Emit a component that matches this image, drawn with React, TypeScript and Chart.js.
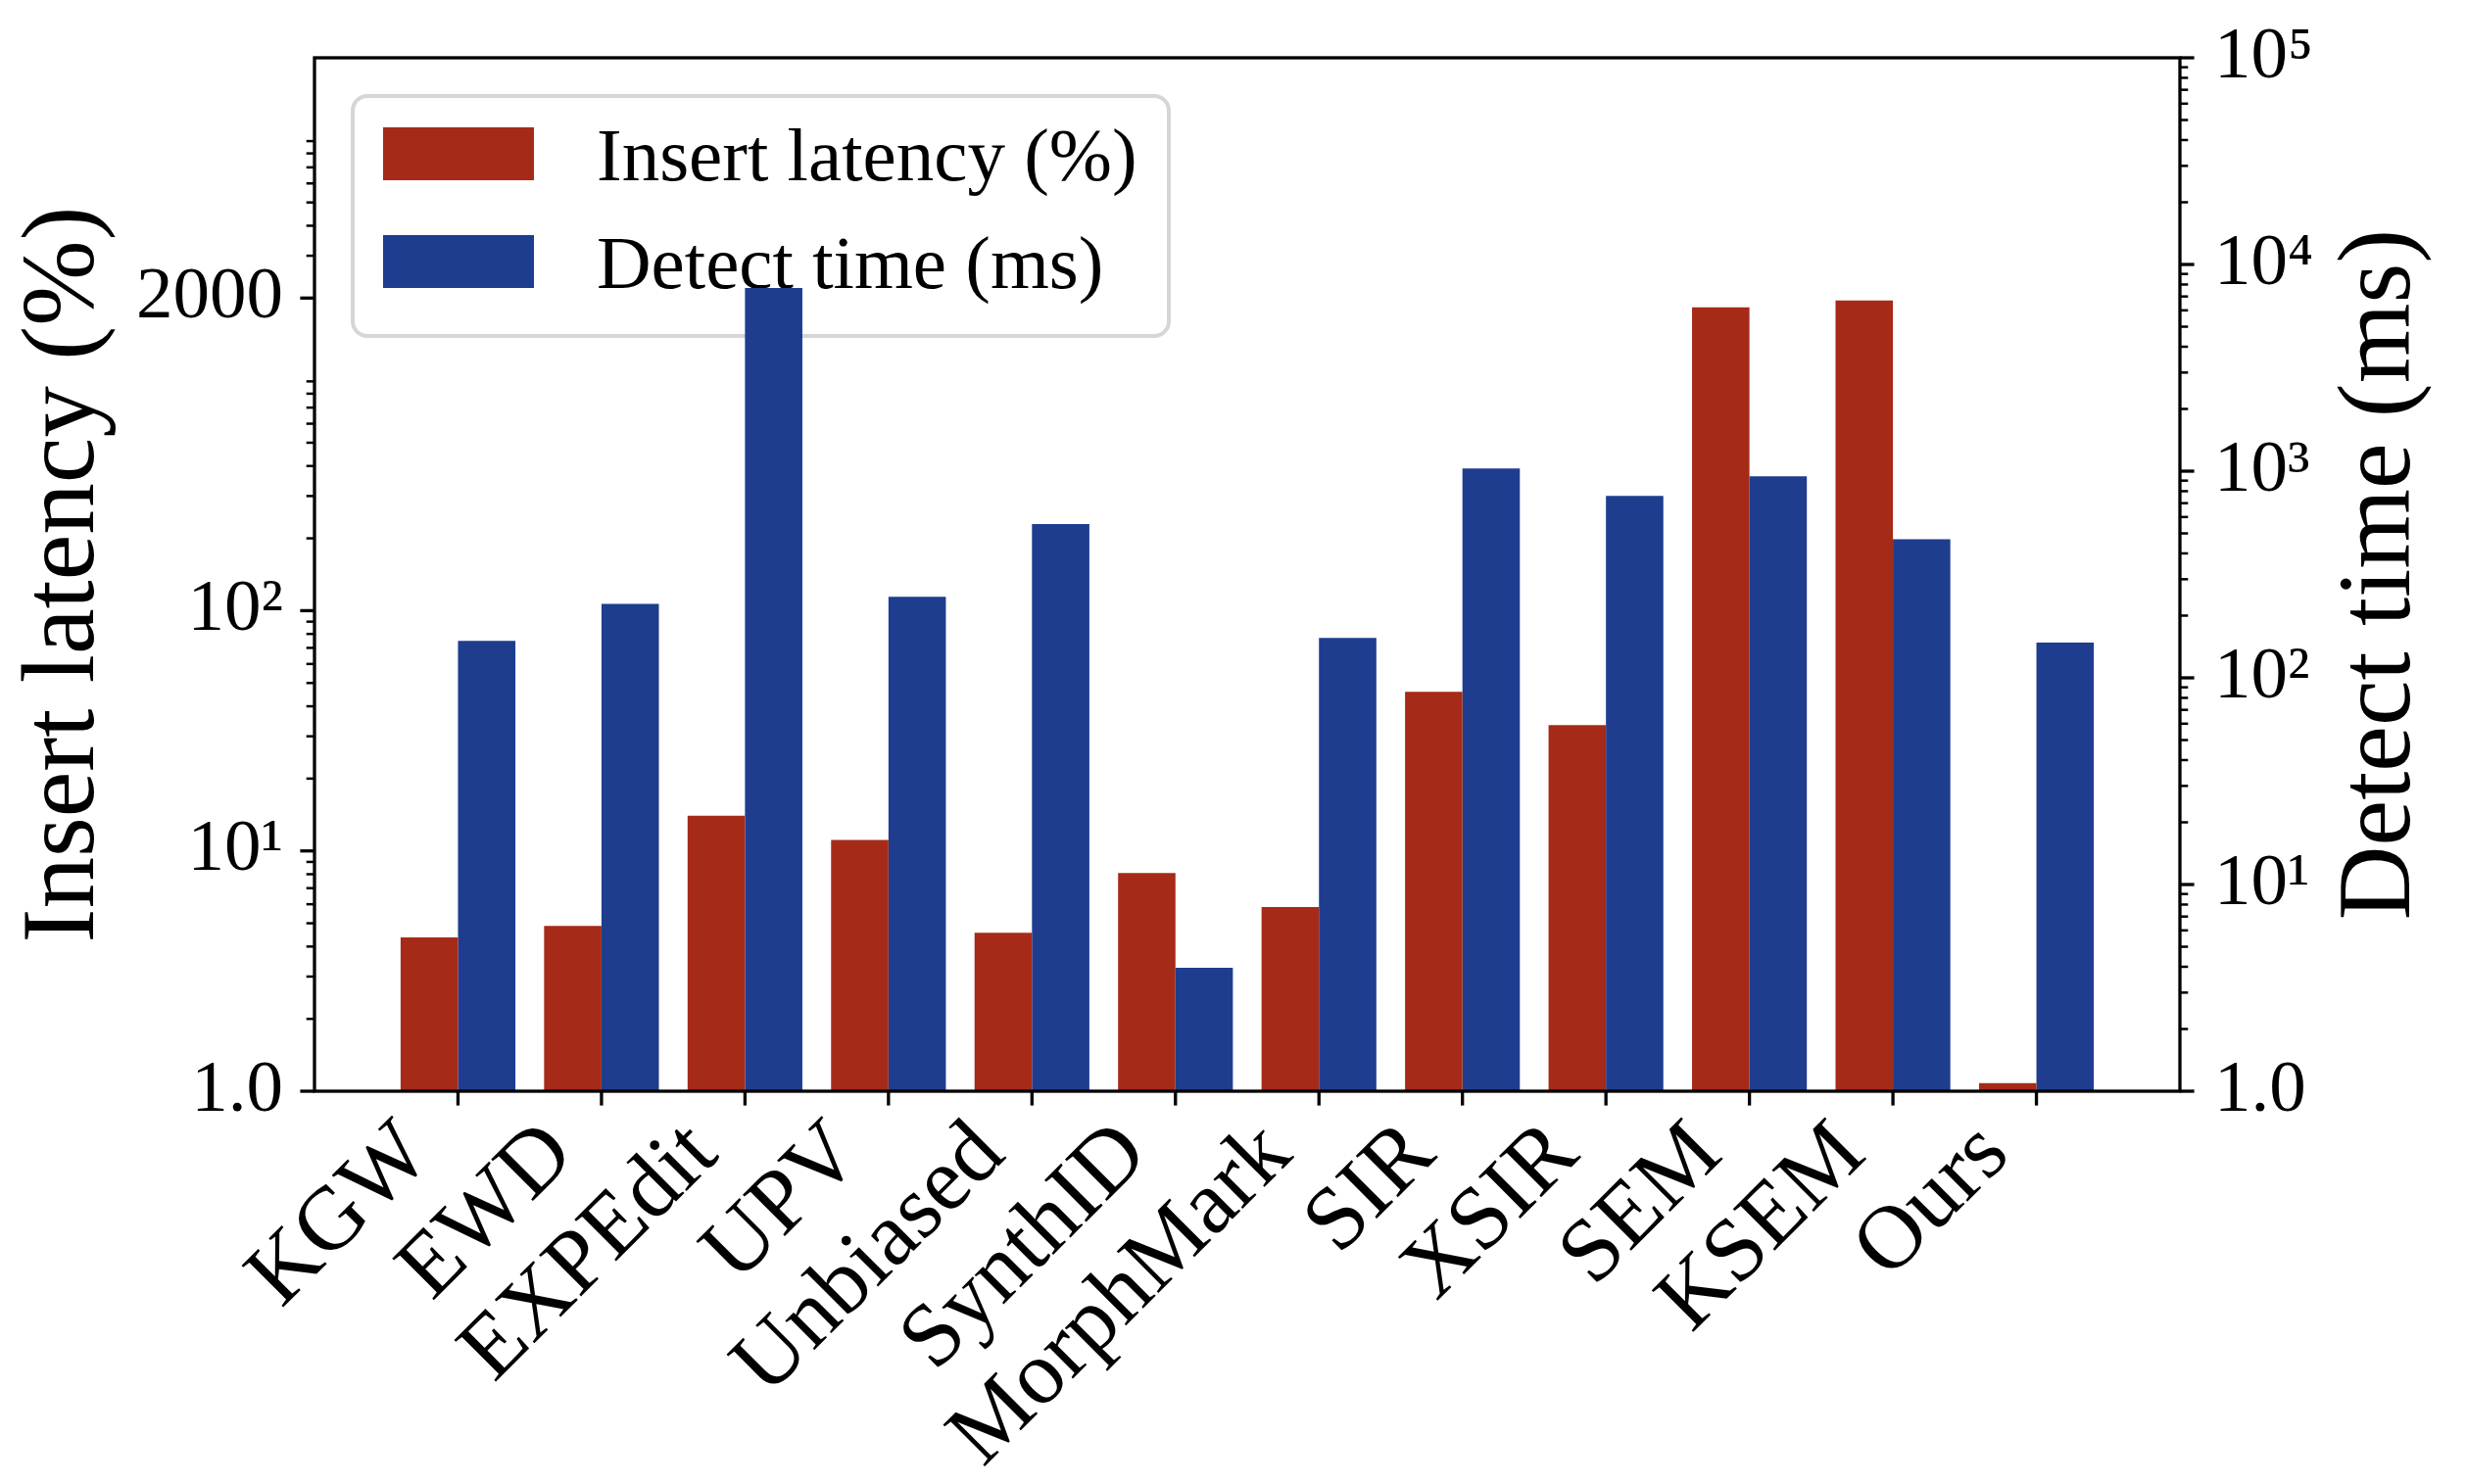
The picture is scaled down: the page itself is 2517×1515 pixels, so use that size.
import React, { useEffect, useRef } from 'react';
import { Chart, registerables } from 'chart.js';

Chart.register(...registerables);

// ---------- data ----------
const categories = ['KGW', 'EWD', 'EXPEdit', 'UPV', 'Unbiased', 'SynthID', 'MorphMark', 'SIR', 'XSIR', 'SEM', 'KSEM', 'Ours'];
const insertLatency = [4.37, 4.87, 14.0, 11.1, 4.56, 8.1, 5.84, 45.9, 33.4, 1830, 1955, 1.08];
const detectTime = [151, 228, 7700, 247, 555, 3.96, 156, 1030, 759, 944, 469, 148];

const seriesLabels = ['Insert latency (%)', 'Detect time (ms)'];
const seriesColors = ['#A62A18', '#1F3D8F'];

const leftTickValues = [1, 10, 100, 2000];
const leftTickLabels = ['1.0', '10¹', '10²', '2000'];
const rightTickValues = [1, 10, 100, 1000, 10000, 100000];
const rightTickLabels = ['1.0', '10¹', '10²', '10³', '10⁴', '10⁵'];

const leftAxisTitle = 'Insert latency (%)';
const rightAxisTitle = 'Detect time (ms)';

const FONT = "'Liberation Serif', 'Times New Roman', serif";
const TITLE_SIZE = 105;

// minor tick values (2..9 x decade) inside a range
function minorValues(min: number, max: number): number[] {
  const out: number[] = [];
  for (let d = 1; d <= max; d *= 10) {
    for (let s = 2; s <= 9; s++) {
      const v = s * d;
      if (v > min && v < max) out.push(v);
    }
  }
  return out;
}

const MAJOR_LEN = 14.6;
const MINOR_LEN = 8.3;
const MAJOR_W = 3.3;
const MINOR_W = 2.5;

const decorPlugin = {
  id: 'decor',
  beforeDatasetsDraw(chart: any) {
    // legend (drawn beneath the bars, like the twin-axis original)
    const ctx = chart.ctx;
    const { left, top } = chart.chartArea;
    const bx = left + 39, by = top + 39, bw = 833, bh = 245, r = 15;
    ctx.save();
    ctx.beginPath();
    ctx.moveTo(bx + r, by);
    ctx.lineTo(bx + bw - r, by);
    ctx.arcTo(bx + bw, by, bx + bw, by + r, r);
    ctx.lineTo(bx + bw, by + bh - r);
    ctx.arcTo(bx + bw, by + bh, bx + bw - r, by + bh, r);
    ctx.lineTo(bx + r, by + bh);
    ctx.arcTo(bx, by + bh, bx, by + bh - r, r);
    ctx.lineTo(bx, by + r);
    ctx.arcTo(bx, by, bx + r, by, r);
    ctx.closePath();
    ctx.fillStyle = 'rgba(255,255,255,0.8)';
    ctx.fill();
    ctx.lineWidth = 4;
    ctx.strokeStyle = 'rgba(204,204,204,0.8)';
    ctx.stroke();
    ctx.font = `77px ${FONT}`;
    ctx.textAlign = 'left';
    ctx.textBaseline = 'alphabetic';
    chart.data.datasets.forEach((ds: any, i: number) => {
      const baseY = top + 125 + i * 110;
      ctx.fillStyle = ds.backgroundColor;
      ctx.fillRect(left + 70, baseY - 54, 154, 54);
      ctx.fillStyle = '#000';
      ctx.fillText(ds.label, left + 288, baseY);
    });
    ctx.restore();
  },
  afterDraw(chart: any) {
    const ctx = chart.ctx;
    const { left, right, top, bottom } = chart.chartArea;
    const xs = chart.scales.x, ys = chart.scales.y, y1 = chart.scales.y1;
    ctx.save();
    ctx.strokeStyle = '#000';
    ctx.lineCap = 'butt';
    const line = (x1: number, yA: number, x2: number, yB: number, w: number) => {
      ctx.lineWidth = w;
      ctx.beginPath();
      ctx.moveTo(x1, yA);
      ctx.lineTo(x2, yB);
      ctx.stroke();
    };
    // left axis ticks
    minorValues(ys.min, ys.max).forEach((v) => {
      if (leftTickValues.includes(v)) return;
      const p = ys.getPixelForValue(v);
      line(left, p, left - MINOR_LEN, p, MINOR_W);
    });
    leftTickValues.forEach((v) => {
      const p = ys.getPixelForValue(v);
      line(left, p, left - MAJOR_LEN, p, MAJOR_W);
    });
    // right axis ticks
    minorValues(y1.min, y1.max).forEach((v) => {
      const p = y1.getPixelForValue(v);
      line(right, p, right + MINOR_LEN, p, MINOR_W);
    });
    rightTickValues.forEach((v) => {
      const p = y1.getPixelForValue(v);
      line(right, p, right + MAJOR_LEN, p, MAJOR_W);
    });
    // x ticks
    categories.forEach((_, i) => {
      const p = xs.getPixelForValue(i);
      line(p, bottom, p, bottom + MAJOR_LEN, MAJOR_W);
    });
    // frame
    ctx.lineWidth = MAJOR_W;
    ctx.strokeRect(left, top, right - left, bottom - top);
    // right axis title (reads bottom to top)
    ctx.fillStyle = '#000';
    ctx.font = `${TITLE_SIZE}px ${FONT}`;
    ctx.textAlign = 'center';
    ctx.textBaseline = 'middle';
    ctx.translate(right + 206, (top + bottom) / 2);
    ctx.rotate(-Math.PI / 2);
    ctx.fillText(rightAxisTitle, 0, 0);
    ctx.restore();
  },
};

export default function App() {
  const canvasRef = useRef<HTMLCanvasElement | null>(null);

  useEffect(() => {
    if (!canvasRef.current) return;
    const chart = new Chart(canvasRef.current, {
      type: 'bar',
      data: {
        datasets: [
          {
            label: seriesLabels[0],
            data: insertLatency.map((v, i) => ({ x: i, y: v })),
            backgroundColor: seriesColors[0],
            yAxisID: 'y',
            categoryPercentage: 0.8,
            barPercentage: 1.0,
          },
          {
            label: seriesLabels[1],
            data: detectTime.map((v, i) => ({ x: i, y: v })),
            backgroundColor: seriesColors[1],
            yAxisID: 'y1',
            categoryPercentage: 0.8,
            barPercentage: 1.0,
          },
        ] as any,
      },
      options: {
        animation: false,
        responsive: true,
        maintainAspectRatio: false,
        layout: { padding: { left: 0, right: 0, top: 59, bottom: 0 } },
        plugins: {
          legend: { display: false },
          tooltip: { enabled: false },
        },
        scales: {
          x: {
            type: 'linear',
            min: -1,
            max: 12,
            offset: false,
            grid: { display: false, drawTicks: false },
            border: { display: false },
            afterBuildTicks: (scale: any) => {
              scale.ticks = categories.map((_, i) => ({ value: i }));
            },
            afterFit: (scale: any) => {
              scale.height = 401;
              scale.paddingLeft = 0;
              scale.paddingRight = 0;
            },
            ticks: {
              autoSkip: false,
              minRotation: 45,
              maxRotation: 45,
              padding: 11,
              labelOffset: -42,
              color: '#000',
              font: { family: FONT, size: 92 },
              callback: (_v: any, index: number) => categories[index],
            },
          },
          y: {
            type: 'logarithmic',
            position: 'left',
            min: 1,
            max: 20000,
            grid: { display: false, drawTicks: false },
            border: { display: false },
            afterBuildTicks: (scale: any) => {
              scale.ticks = leftTickValues.map((v) => ({ value: v }));
            },
            afterFit: (scale: any) => {
              scale.width = 321;
              scale.paddingTop = 0;
              scale.paddingBottom = 0;
            },
            ticks: {
              padding: 32,
              color: '#000',
              font: { family: FONT, size: 75 },
              callback: (_v: any, index: number) => leftTickLabels[index],
            },
            title: {
              display: true,
              text: leftAxisTitle,
              color: '#000',
              font: { family: FONT, size: TITLE_SIZE },
              padding: { top: 4, bottom: 0 },
            },
          },
          y1: {
            type: 'logarithmic',
            position: 'right',
            min: 1,
            max: 100000,
            grid: { display: false, drawTicks: false },
            border: { display: false },
            afterBuildTicks: (scale: any) => {
              scale.ticks = rightTickValues.map((v) => ({ value: v }));
            },
            afterFit: (scale: any) => {
              scale.width = 292;
              scale.paddingTop = 0;
              scale.paddingBottom = 0;
            },
            ticks: {
              padding: 35,
              color: '#000',
              font: { family: FONT, size: 75 },
              callback: (_v: any, index: number) => rightTickLabels[index],
            },
          },
        },
      } as any,
      plugins: [decorPlugin],
    });
    return () => chart.destroy();
  }, []);

  return (
    <div style={{ position: 'absolute', left: 0, top: 0, width: 2517, height: 1515, background: '#fff' }}>
      <canvas ref={canvasRef} />
    </div>
  );
}
